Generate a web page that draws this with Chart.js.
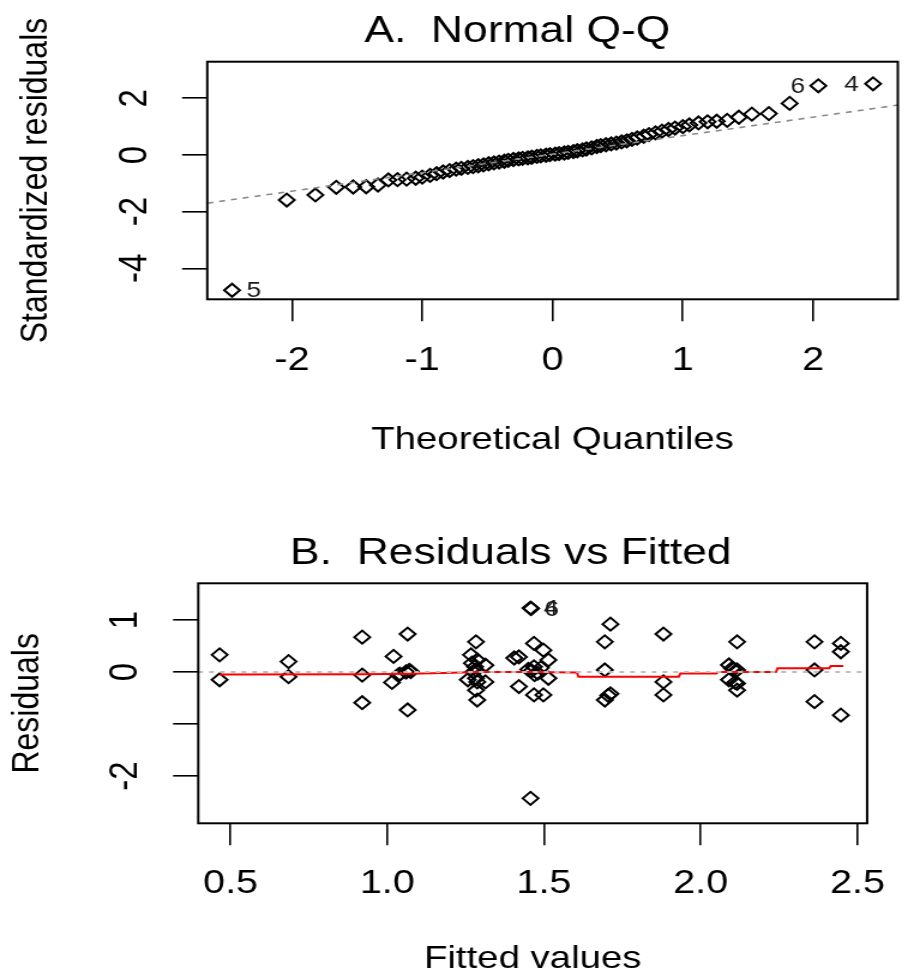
<!DOCTYPE html>
<html><head><meta charset="utf-8">
<script src="https://cdn.jsdelivr.net/npm/chart.js@4/dist/chart.umd.min.js"></script>
<style>
html,body{margin:0;padding:0;background:#fff;width:908px;height:980px;overflow:hidden}
canvas{display:block}
</style></head><body>
<canvas id="qq" width="757" height="490" style="width:908px;height:490px"></canvas>
<canvas id="rvf" width="757" height="490" style="width:908px;height:490px"></canvas>
<script>
// ---------- A. Normal Q-Q ----------
const qqTheoretical = [-2.46,-2.04,-1.82,-1.66,-1.53,-1.43,-1.34,-1.26,-1.19,-1.12,-1.05,-1.00,-0.94,-0.89,-0.84,-0.79,-0.74,-0.70,-0.65,-0.61,-0.57,-0.53,-0.49,-0.45,-0.41,-0.37,-0.34,-0.30,-0.26,-0.23,-0.19,-0.16,-0.12,-0.09,-0.05,-0.02,
  0.02,0.05,0.09,0.12,0.16,0.19,0.23,0.26,0.30,0.34,0.37,0.41,0.45,0.49,0.53,0.57,0.61,0.65,0.70,0.74,0.79,0.84,0.89,0.94,1.00,1.05,1.12,1.19,1.26,1.34,1.43,1.53,1.66,1.82,2.04,2.46];
const qqStdResiduals = [-4.77,-1.59,-1.41,-1.14,-1.13,-1.12,-1.06,-0.88,-0.87,-0.85,-0.82,-0.78,-0.72,-0.66,-0.60,-0.55,-0.50,-0.47,-0.44,-0.41,-0.38,-0.35,-0.31,-0.28,-0.25,-0.22,-0.19,-0.16,-0.14,-0.12,-0.10,-0.08,-0.05,-0.03,-0.01,0.01,
  0.03,0.05,0.07,0.09,0.12,0.15,0.18,0.21,0.25,0.30,0.33,0.36,0.39,0.42,0.46,0.50,0.55,0.60,0.66,0.72,0.78,0.84,0.90,0.95,1.00,1.06,1.13,1.17,1.19,1.22,1.33,1.44,1.46,1.82,2.44,2.51];
const qqLineX = [-2.65, 2.65];
const qqLineY = [-1.70, 1.76];
const qqLabelIndex = [0, 70, 71];
const qqLabelText = ['5', '6', '4'];
const qqXTicks = [-2, -1, 0, 1, 2];
const qqXTickLabels = ['-2', '-1', '0', '1', '2'];
const qqYTicks = [-4, -2, 0, 2];
const qqYTickLabels = ['-4', '-2', '0', '2'];

// ---------- B. Residuals vs Fitted ----------
const fittedValues = [0.465,0.465,
  0.685,0.685,
  0.92,0.92,0.92,
  1.065,1.02,1.015,1.07,1.06,1.075,1.065,1.04,1.035,
  1.283,1.267,1.287,1.27,1.313,1.28,1.283,1.275,1.257,1.283,1.287,1.313,1.283,1.287,
  1.457,1.459,1.457,1.468,1.498,1.514,1.468,1.46,1.47,1.48,1.514,1.42,1.468,1.498,1.42,1.405,1.45,1.49,
  1.694,1.694,1.694,1.712,1.712,1.705,
  1.881,1.881,1.881,
  2.116,2.09,2.10,2.105,2.116,2.09,2.116,2.116,2.11,
  2.363,2.363,2.363,
  2.447,2.447,2.447];
const residuals = [0.33,-0.15,
  0.20,-0.09,
  0.67,-0.06,-0.59,
  0.73,0.30,-0.20,0.03,0.00,0.01,-0.73,-0.04,-0.06,
  0.58,0.33,0.23,0.17,0.13,0.10,0.04,0.00,-0.15,-0.12,-0.19,-0.19,-0.35,-0.54,
  1.23,1.22,-2.43,0.55,0.42,0.23,0.10,0.02,-0.05,-0.02,-0.12,-0.28,-0.44,-0.44,0.29,0.27,0.05,0.08,
  0.58,0.04,-0.54,0.92,-0.42,-0.45,
  0.73,-0.19,-0.44,
  0.58,0.135,0.07,0.05,0.04,-0.15,-0.22,-0.35,-0.20,
  0.58,0.04,-0.57,
  0.55,0.39,-0.83];
const smoothX = [0.465,0.92,1.07,1.18,1.29,1.46,1.605,1.61,1.93,1.935,2.05,2.055,2.24,2.245,2.41,2.415,2.455];
const smoothY = [-0.05,-0.045,-0.035,-0.02,0.0,0.0,-0.01,-0.09,-0.09,-0.03,-0.03,0.0,0.0,0.07,0.07,0.115,0.115];
const zeroLineX = [0.397, 2.531];
const zeroLineY = [0, 0];
const rvfLabelIndex = [30, 31];
const rvfLabelText = ['4', '6'];
const rvfXTicks = [0.5, 1.0, 1.5, 2.0, 2.5];
const rvfXTickLabels = ['0.5', '1.0', '1.5', '2.0', '2.5'];
const rvfYTicks = [-2, -1, 0, 1];
const rvfYTickLabels = ['-2', '', '0', '1'];

const FONT = '"Liberation Sans", Arial, Helvetica, sans-serif';
Chart.defaults.font.family = FONT;
Chart.defaults.color = '#000';

const pts = (xs, ys) => xs.map((x, i) => ({x: x, y: ys[i]}));

const decorations = {
  id: 'decorations',
  afterDatasetsDraw(chart, args, o) {
    const {ctx, chartArea: a} = chart;
    ctx.save();
    ctx.strokeStyle = '#000';
    ctx.lineWidth = 2;
    ctx.strokeRect(a.left, a.top, a.right - a.left, a.bottom - a.top);
    const meta = chart.getDatasetMeta(o.dataset);
    ctx.font = '22px ' + FONT;
    ctx.fillStyle = '#1a1a1a';
    ctx.textBaseline = 'middle';
    o.index.forEach((idx, k) => {
      const el = meta.data[idx];
      ctx.textAlign = o.dx[k] < 0 ? 'right' : 'left';
      ctx.fillText(o.text[k], el.x + o.dx[k], el.y + 1);
    });
    ctx.font = '37px ' + FONT;
    ctx.fillStyle = '#000';
    ctx.textAlign = 'center';
    ctx.textBaseline = 'alphabetic';
    ctx.fillText(o.title, o.titleX, o.titleY);
    ctx.restore();
  }
};

function makeScales(cfg) {
  return {
    x: {
      type: 'linear', min: cfg.xmin, max: cfg.xmax,
      afterFit: s => { s.height = cfg.xh; },
      afterBuildTicks: s => { s.ticks = cfg.xt.map(v => ({value: v})); },
      ticks: {autoSkip: false, maxRotation: 0, minRotation: 0, padding: cfg.xpad,
        font: {size: 33}, color: '#000',
        callback: (v, i) => cfg.xl[i]},
      grid: {display: true, drawOnChartArea: false, drawTicks: true, tickLength: 22, color: '#000', lineWidth: 1.6},
      border: {display: false},
      title: {display: true, text: cfg.xtitle, font: {size: 32, lineHeight: 1}, color: '#000', padding: {top: 0, bottom: cfg.xtpad}}
    },
    y: {
      type: 'linear', min: cfg.ymin, max: cfg.ymax,
      afterFit: s => { s.width = cfg.yw; },
      afterBuildTicks: s => { s.ticks = cfg.yt.map(v => ({value: v})); },
      ticks: {autoSkip: false, minRotation: 90, maxRotation: 90, crossAlign: 'center', padding: cfg.ypad,
        font: {size: 33}, color: '#000',
        callback: (v, i) => cfg.yl[i]},
      grid: {display: true, drawOnChartArea: false, drawTicks: true, tickLength: 21, color: '#000', lineWidth: 1.6},
      border: {display: false},
      title: {display: true, text: cfg.ytitle, font: {size: 32, lineHeight: 1}, color: '#000', padding: {top: cfg.ytpad, bottom: 0}}
    }
  };
}

new Chart(document.getElementById('qq'), {
  type: 'scatter',
  data: {datasets: [
    {data: pts(qqLineX, qqLineY), showLine: true, borderColor: '#8a8a8a', borderWidth: 1.6, borderDash: [5, 5], pointRadius: 0, order: 0},
    {data: pts(qqTheoretical, qqStdResiduals), pointStyle: 'rectRot', pointRadius: 6.5, pointBorderWidth: 2,
      borderColor: '#000', backgroundColor: 'rgba(0,0,0,0)', order: 1}
  ]},
  options: {
    responsive: false, animation: false, events: [],
    layout: {padding: {top: 61.7, right: 8.1, left: 0, bottom: 0}},
    plugins: {legend: {display: false}, tooltip: {enabled: false},
      decorations: {dataset: 1, index: qqLabelIndex, text: qqLabelText, dx: [12, -11, -12],
        title: 'A.  Normal Q-Q', titleX: 431.3, titleY: 41.7}},
    scales: makeScales({xmin: -2.65, xmax: 2.65, ymin: -5.09, ymax: 3.29,
      xh: 190.7, yw: 172.8, xt: qqXTicks, xl: qqXTickLabels, yt: qqYTicks, yl: qqYTickLabels,
      xpad: 20, ypad: 24, xtitle: 'Theoretical Quantiles', ytitle: 'Standardized residuals', xtpad: 34, ytpad: 14.6})
  },
  plugins: [decorations]
});

new Chart(document.getElementById('rvf'), {
  type: 'scatter',
  data: {datasets: [
    {data: pts(zeroLineX, zeroLineY), showLine: true, borderColor: '#bdbdbd', borderWidth: 2, borderDash: [4, 5], pointRadius: 0, order: 0},
    {data: pts(smoothX, smoothY), showLine: true, borderColor: '#ff0000', borderWidth: 2, pointRadius: 0, order: 1},
    {data: pts(fittedValues, residuals), pointStyle: 'rectRot', pointRadius: 6.5, pointBorderWidth: 2,
      borderColor: '#000', backgroundColor: 'rgba(0,0,0,0)', order: 2}
  ]},
  options: {
    responsive: false, animation: false, events: [],
    layout: {padding: {top: 93.3, right: 15.6, left: 0, bottom: 0}},
    plugins: {legend: {display: false}, tooltip: {enabled: false},
      decorations: {dataset: 2, index: rvfLabelIndex, text: rvfLabelText, dx: [11, 11],
        title: 'B.  Residuals vs Fitted', titleX: 425.9, titleY: 74.3}},
    scales: makeScales({xmin: 0.397, xmax: 2.531, ymin: -2.91, ymax: 1.706,
      xh: 156.7, yw: 165.3, xt: rvfXTicks, xl: rvfXTickLabels, yt: rvfYTicks, yl: rvfYTickLabels,
      xpad: 19, ypad: 24.5, xtitle: 'Fitted values', ytitle: 'Residuals', xtpad: 5, ytpad: 7.6})
  },
  plugins: [decorations]
});
</script>
</body></html>
